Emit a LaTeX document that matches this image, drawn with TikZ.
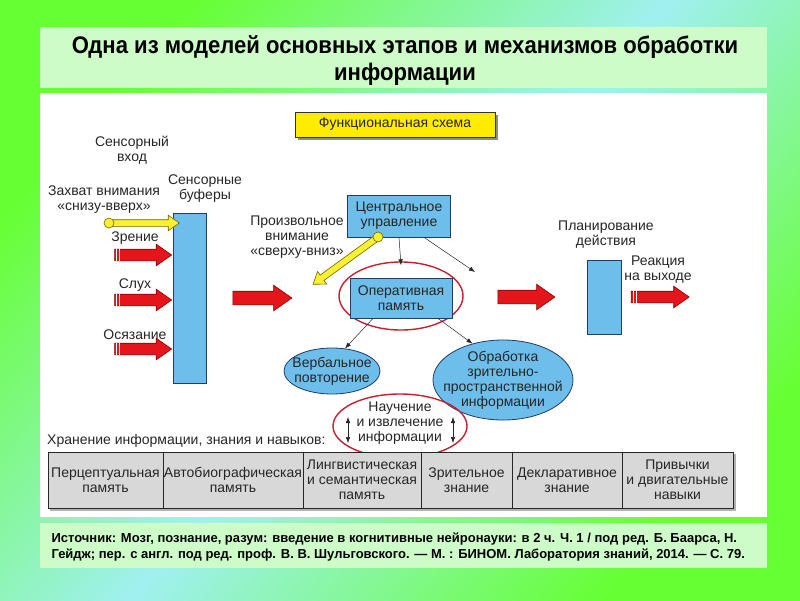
\documentclass[tikz,border=0pt]{standalone}
\usepackage{fontspec}
\setmainfont{Liberation Sans}
\newfontfamily\narrowfont[FakeStretch=0.92]{Liberation Sans}
\usetikzlibrary{shapes.arrows,shapes.geometric,arrows.meta}

\definecolor{bggreen}{RGB}{102,255,51}
\definecolor{bgcyan}{RGB}{160,240,240}
\definecolor{paleg}{RGB}{206,252,200}
\definecolor{bluefill}{RGB}{110,190,235}
\definecolor{blueline}{RGB}{30,60,110}
\definecolor{arrowred}{RGB}{228,22,28}
\definecolor{arrowdark}{RGB}{140,0,0}
\definecolor{ringred}{RGB}{200,30,45}
\definecolor{yelfill}{RGB}{250,240,50}
\definecolor{yelline}{RGB}{110,100,0}
\definecolor{funcyel}{RGB}{255,236,0}
\definecolor{cellgray}{RGB}{216,216,216}

\begin{document}
\begin{tikzpicture}[
    x=1pt, y=-1pt,
    >=Latex,
    lbl/.style={
        font=\fontsize{14}{15}\selectfont,
        text=black!85,
        align=center,
        inner sep=0pt
    },
    block/.style={
        rectangle,
        draw=blueline,
        fill=bluefill,
        line width=0.8pt,
        inner sep=0pt,
        align=center,
        font=\fontsize{14}{15}\selectfont,
        text=black!85
    },
    blob/.style={
        ellipse,
        draw=blueline,
        fill=bluefill,
        line width=0.8pt,
        inner sep=0pt
    },
    redring/.style={
        ellipse,
        draw=ringred,
        line width=1.4pt,
        inner sep=0pt
    },
    inarrow/.style={
        single arrow,
        draw=arrowdark,
        fill=arrowred,
        line width=0.6pt,
        inner xsep=0pt,
        inner ysep=5.5pt,
        minimum height=57pt,
        single arrow head extend=5pt,
        single arrow tip angle=70
    },
    bigarrow/.style={
        inarrow,
        inner ysep=6.5pt,
        single arrow head extend=6pt
    },
    yelarrow/.style={
        single arrow,
        draw=yelline,
        fill=yelfill,
        line width=0.6pt,
        inner xsep=0pt,
        inner ysep=3pt,
        single arrow head extend=4.5pt,
        single arrow tip angle=70
    },
    yeldot/.style={
        circle,
        draw=yelline,
        fill=yelfill,
        line width=0.6pt,
        inner sep=0pt,
        minimum size=10pt
    },
    thinarr/.style={
        ->,
        >={Latex[length=6pt,width=4.5pt]},
        black!85,
        line width=0.5pt
    },
    cell/.style={
        rectangle,
        draw=black!85,
        fill=cellgray,
        line width=1pt,
        minimum height=56pt,
        inner sep=0pt,
        align=center,
        font=\fontsize{14}{15}\selectfont,
        text=black!85
    },
    stripe/.style={
        white,
        line width=1.3pt
    }
]

% background and panels
\shade[top color=bggreen, bottom color=bggreen, middle color=bgcyan, shading angle=48]
    (0,0) rectangle (800,600);
\fill[paleg] (40,27) rectangle (767,88);
\fill[white] (40,93) rectangle (767,517);
\fill[paleg] (40,523) rectangle (767,568);

\node[font=\narrowfont\bfseries\fontsize{24}{27}\selectfont, align=center] (title) at (405,61)
    {Одна из моделей основных этапов и механизмов обработки\\информации};

\node[font=\bfseries\fontsize{13}{16}\selectfont, align=left, anchor=west] (source) at (48,547)
    {Источник: Мозг, познание, разум: введение в когнитивные нейронауки: в 2 ч. Ч. 1 / под ред. Б. Баарса, Н.\\
     Гейдж; пер. с англ. под ред. проф. В. В. Шульговского. — М. : БИНОМ. Лаборатория знаний, 2014. — С. 79.};

% header
\fill[black!45] (298,115) rectangle (498,140);
\node[rectangle, draw=black!80, fill=funcyel, line width=0.8pt, minimum width=200pt, minimum height=25pt,
      font=\fontsize{14}{15}\selectfont, text=black!85] (func) at (395,124.5)
    {Функциональная схема};

% sensory side
\node[lbl] (sensin) at (132,150) {Сенсорный\\вход};
\node[lbl] (buflbl) at (205,189) {Сенсорные\\буферы};
\node[lbl] (capture) at (104,200) {Захват внимания\\«снизу-вверх»};

\node[block, minimum width=33pt, minimum height=170pt] (buffer) at (189.5,298) {};

\node[yelarrow, minimum height=68pt] (capt) at (143,223) {};
\node[yeldot] (captdot) at (109,223) {};

\node[lbl] (vislbl) at (135,238) {Зрение};
\node[lbl] (audlbl) at (135,285) {Слух};
\node[lbl] (touchlbl) at (135,335) {Осязание};

\node[inarrow] (vis) at (139,255) {};
\node[inarrow] (aud) at (139,300) {};
\node[inarrow] (touch) at (139,349) {};
\draw[stripe] ([xshift=2.3pt]vis.tail) +(0,-6) -- +(0,6);
\draw[stripe] ([xshift=5.3pt]vis.tail) +(0,-6) -- +(0,6);
\draw[stripe] ([xshift=2.3pt]aud.tail) +(0,-6) -- +(0,6);
\draw[stripe] ([xshift=5.3pt]aud.tail) +(0,-6) -- +(0,6);
\draw[stripe] ([xshift=2.3pt]touch.tail) +(0,-6) -- +(0,6);
\draw[stripe] ([xshift=5.3pt]touch.tail) +(0,-6) -- +(0,6);

\node[bigarrow, minimum height=59pt] (tocenter) at (257.5,298) {};

% central part
\node[lbl] (vollbl) at (297,237) {Произвольное\\внимание\\«сверху-вниз»};

\node[block, minimum width=103pt, minimum height=42pt] (central) at (399,216)
    {Центральное\\управление};

\node[redring, minimum width=124pt, minimum height=68pt] (opring) at (401,296) {};
\node[block, minimum width=102pt, minimum height=40pt] (oper) at (401,298)
    {Оперативная\\память};

\node[yelarrow, minimum height=78pt, rotate=216] (volarr) at (346.5,260) {};
\node[yeldot] (voldot) at (378,237) {};

\coordinate (cdiag) at (475,272);
\draw[thinarr] (central.south) -- ([yshift=-4pt]opring.north);
\draw[thinarr] ([xshift=25pt]central.south) -- (cdiag);

\node[blob, minimum width=96pt, minimum height=46pt] (verb) at (332,371) {};
\node[lbl] (verbtext) at (verb) {Вербальное\\повторение};

\node[blob, minimum width=140pt, minimum height=80pt] (visp) at (503,380) {};
\node[lbl] (visptext) at (visp) {Обработка\\зрительно-\\пространственной\\информации};

\draw[thinarr] ([xshift=-28pt]oper.south) -- (verb.60);
\draw[thinarr] ([xshift=37pt]oper.south) -- (visp.130);

\node[bigarrow, minimum height=57pt] (toplan) at (521.5,297) {};

% output side
\node[lbl] (planlbl) at (606,235) {Планирование\\действия};
\node[block, minimum width=34pt, minimum height=74pt] (plan) at (604,297) {};
\node[lbl] (reactlbl) at (658,270) {Реакция\\на выходе};

\node[inarrow, minimum height=58pt] (react) at (656,297) {};
\draw[stripe] ([xshift=2.3pt]react.tail) +(0,-6) -- +(0,6);
\draw[stripe] ([xshift=5.3pt]react.tail) +(0,-6) -- +(0,6);

% storage
\node[redring, minimum width=134pt, minimum height=64pt] (learn) at (400,426) {};
\node[lbl] (learntext) at (400,423) {Научение\\и извлечение\\информации};
\draw[thinarr, <->] ([xshift=-52pt, yshift=9pt]learn.center) -- ([xshift=-52pt, yshift=-17pt]learn.center);
\draw[thinarr, <->] ([xshift=53pt, yshift=9pt]learn.center) -- ([xshift=53pt, yshift=-17pt]learn.center);

\node[lbl, anchor=west] (storelbl) at (47,441) {Хранение информации, знания и навыков:};

\fill[black!30] (50,454) rectangle (736,511);
\node[cell, minimum width=115pt] (c1) at (105.5,480) {Перцептуальная\\память};
\node[cell, minimum width=140pt] (c2) at (233,480) {Автобиографическая\\память};
\node[cell, minimum width=118pt] (c3) at (362,480) {Лингвистическая\\и семантическая\\память};
\node[cell, minimum width=91pt] (c4) at (466.5,480) {Зрительное\\знание};
\node[cell, minimum width=110pt] (c5) at (567,480) {Декларативное\\знание};
\node[cell, minimum width=111pt] (c6) at (677.5,480) {Привычки\\и двигательные\\навыки};

\end{tikzpicture}
\end{document}
